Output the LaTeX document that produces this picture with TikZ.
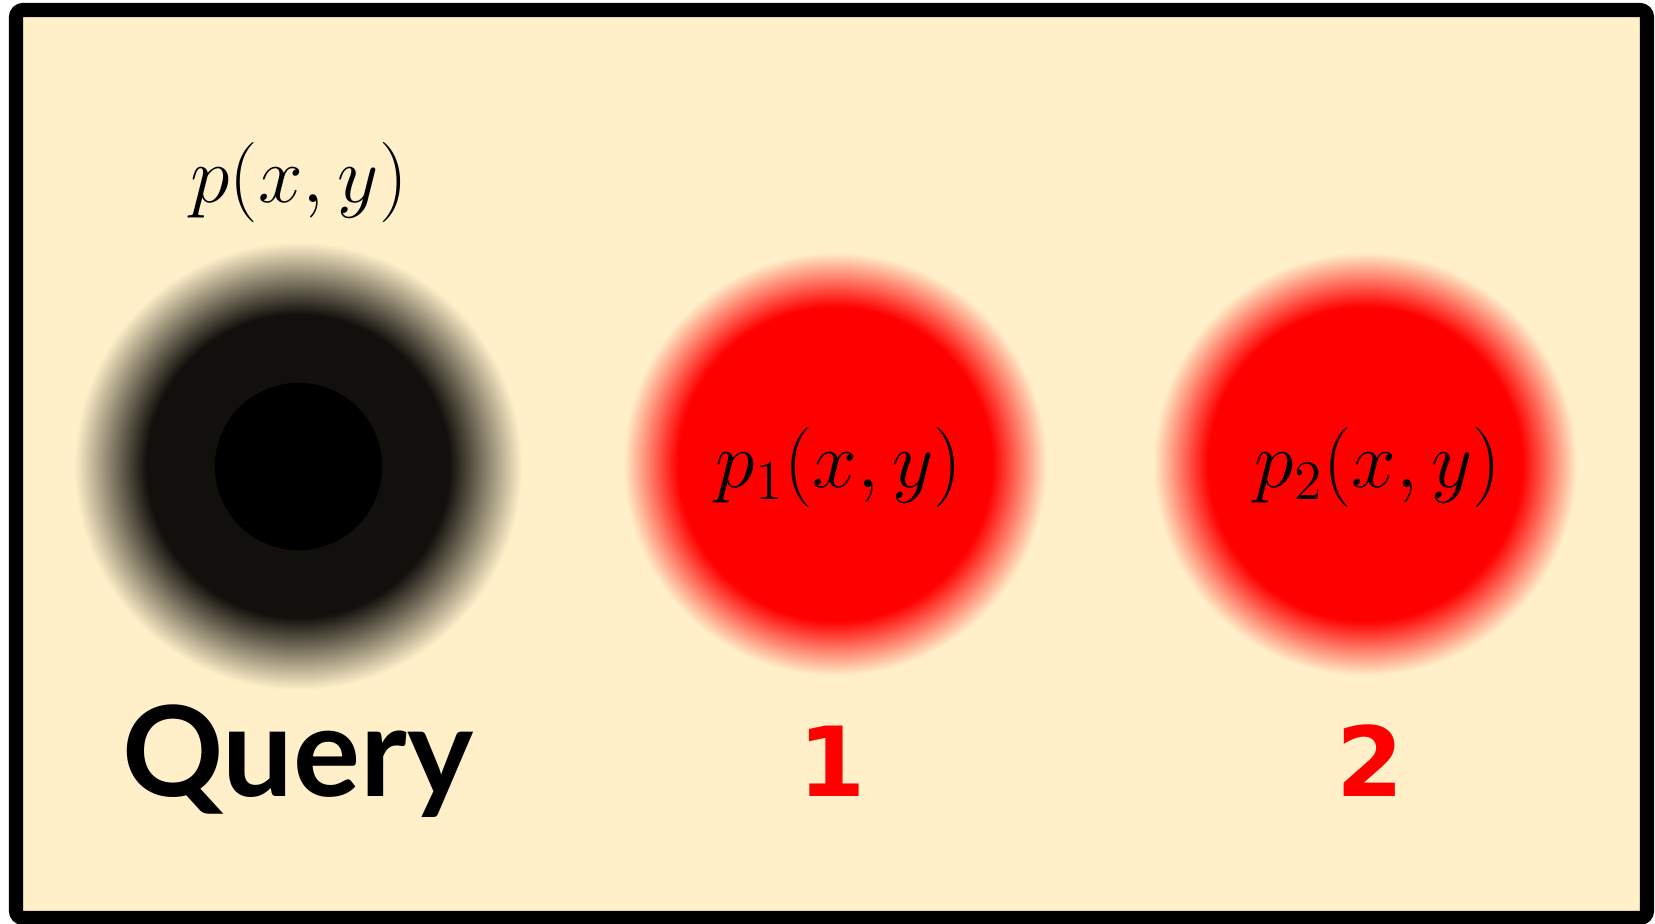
\documentclass[tikz,border=0pt]{standalone}
\usepackage{fontspec}
\usepackage{amsmath}
\newfontfamily\queryfont{Lato}
\newfontfamily\digitfont{DejaVu Sans}
\definecolor{paper}{RGB}{255,240,202}
\definecolor{ringdark}{RGB}{18,16,12}
% the path's box maps to 25bp, so stops are halved
\pgfdeclareradialshading{queryshade}{\pgfpoint{0bp}{0bp}}{color(0bp)=(black); color(9.35bp)=(black); color(9.4bp)=(ringdark); color(16.9bp)=(ringdark); color(25bp)=(paper); color(50bp)=(paper)}
\pgfdeclareradialshading{redshade}{\pgfpoint{0bp}{0bp}}{color(0bp)=(red); color(18.5bp)=(red); color(25bp)=(paper); color(50bp)=(paper)}
\newcommand{\bigmath}[1]{\scalebox{1.1}{$#1$}}
\tikzset{blob/.style = {circle, inner sep = 0, draw = none}}
\tikzset{mathlabel/.style = {font = \fontsize{20.74}{25}\selectfont, inner sep = 0}}
\tikzset{numlabel/.style = {font = \digitfont\bfseries\fontsize{27.5}{32}\selectfont, text = red, anchor = base, inner sep = 0}}

\begin{document}
\begin{tikzpicture}[x=0.1mm, y=-0.1mm]
    \useasboundingbox (0,0) rectangle (1655,924);
    \draw[line width=4pt, fill=paper, rounded corners=2pt] (16,10) rectangle (1647,918);
    \node[blob, minimum size=44.8mm, shading=queryshade] (query) at (298,466) {};
    \node[blob, minimum size=42.4mm, shading=redshade] (blobA) at (835,464) {};
    \node[blob, minimum size=42.4mm, shading=redshade] (blobB) at (1365,464) {};
    \node[mathlabel] (pq) at (299,182) {\bigmath{p(x,y)}};
    \node[mathlabel] (pA) at (839,467) {\bigmath{p_1(x,y)}};
    \node[mathlabel] (pB) at (1378,467) {\bigmath{p_2(x,y)}};
    \node[anchor=base, inner sep=0, font=\queryfont\bfseries\fontsize{35.7}{40}\selectfont] (qname) at (298,797) {Query};
    \node[numlabel] (nA) at (832,797) {1}; % first candidate
    \node[numlabel] (nB) at (1370,797) {2}; % second candidate
\end{tikzpicture}
\end{document}
